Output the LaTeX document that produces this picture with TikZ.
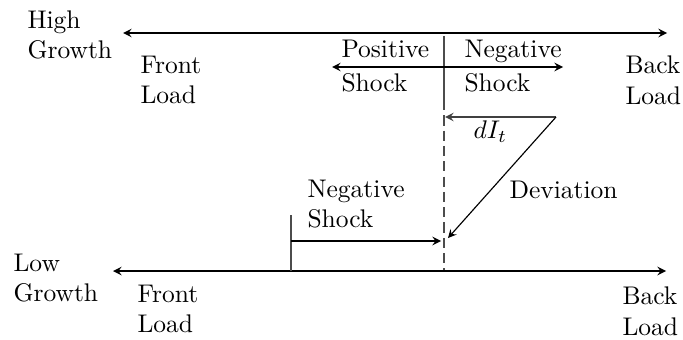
\documentclass[tikz,border=0pt]{standalone}
\usetikzlibrary{arrows}
\begin{document}
\begin{tikzpicture}[x=0.392pt,y=-0.392pt,>=stealth,
  lbl/.style={align=left,inner sep=0pt,anchor=west},
  axis/.style={<->,line width=0.5pt},
  vline/.style={draw=black!70,line width=0.5pt},
  arr/.style={->,line width=0.45pt}]
\useasboundingbox (0,0) rectangle (683,339);
% coordinates
\coordinate (tl) at (123,33);
\coordinate (tr) at (667,33);
\coordinate (bl) at (113,271);
\coordinate (br) at (666,271);
\coordinate (vtop) at (444,36);
\coordinate (vmid) at (444,100);
\coordinate (vbot) at (444,270);
\coordinate (sl) at (332,67);
\coordinate (sr) at (563,67);
\coordinate (dstart) at (556,117);
\coordinate (dend) at (445,117);
\coordinate (devend) at (448,238);
\coordinate (nstop) at (291,215);
\coordinate (nsbot) at (291,271);
\coordinate (nsa) at (291,241);
\coordinate (nsb) at (441,241);
% texts
\node[lbl] (hg) at (27,35) {High\\Growth};
\node[lbl] (fl1) at (140,80) {Front\\Load};
\node[lbl] (bl1) at (625,80) {Back\\Load};
\node[lbl] (ps) at (341,66) {Positive\\[1pt]Shock};
\node[lbl] (ns) at (464,66) {Negative\\[1pt]Shock};
\node[lbl] (di) at (473,132) {$dI_t$};
\node[lbl] (dev) at (509,190) {Deviation};
\node[lbl] (ns2) at (307,204) {Negative\\Shock};
\node[lbl] (lg) at (13,278) {Low\\Growth};
\node[lbl] (fl2) at (137,309) {Front\\Load};
\node[lbl] (bl2) at (622,311) {Back\\Load};
% lines
\draw[axis] (tl) -- (tr);
\draw[axis] (bl) -- (br);
\draw[vline] (vtop) -- (vmid);
\draw[vline,dash pattern=on 4pt off 2pt] (vmid) -- (vbot);
\draw[<->,line width=0.5pt] (sl) -- (sr);
\draw[->,draw=black!75,line width=0.5pt] (dstart) -- (dend);
\draw[arr] (dstart) -- (devend);
\draw[vline] (nstop) -- (nsbot);
\draw[->,line width=0.5pt] (nsa) -- (nsb);
\end{tikzpicture}
\end{document}
